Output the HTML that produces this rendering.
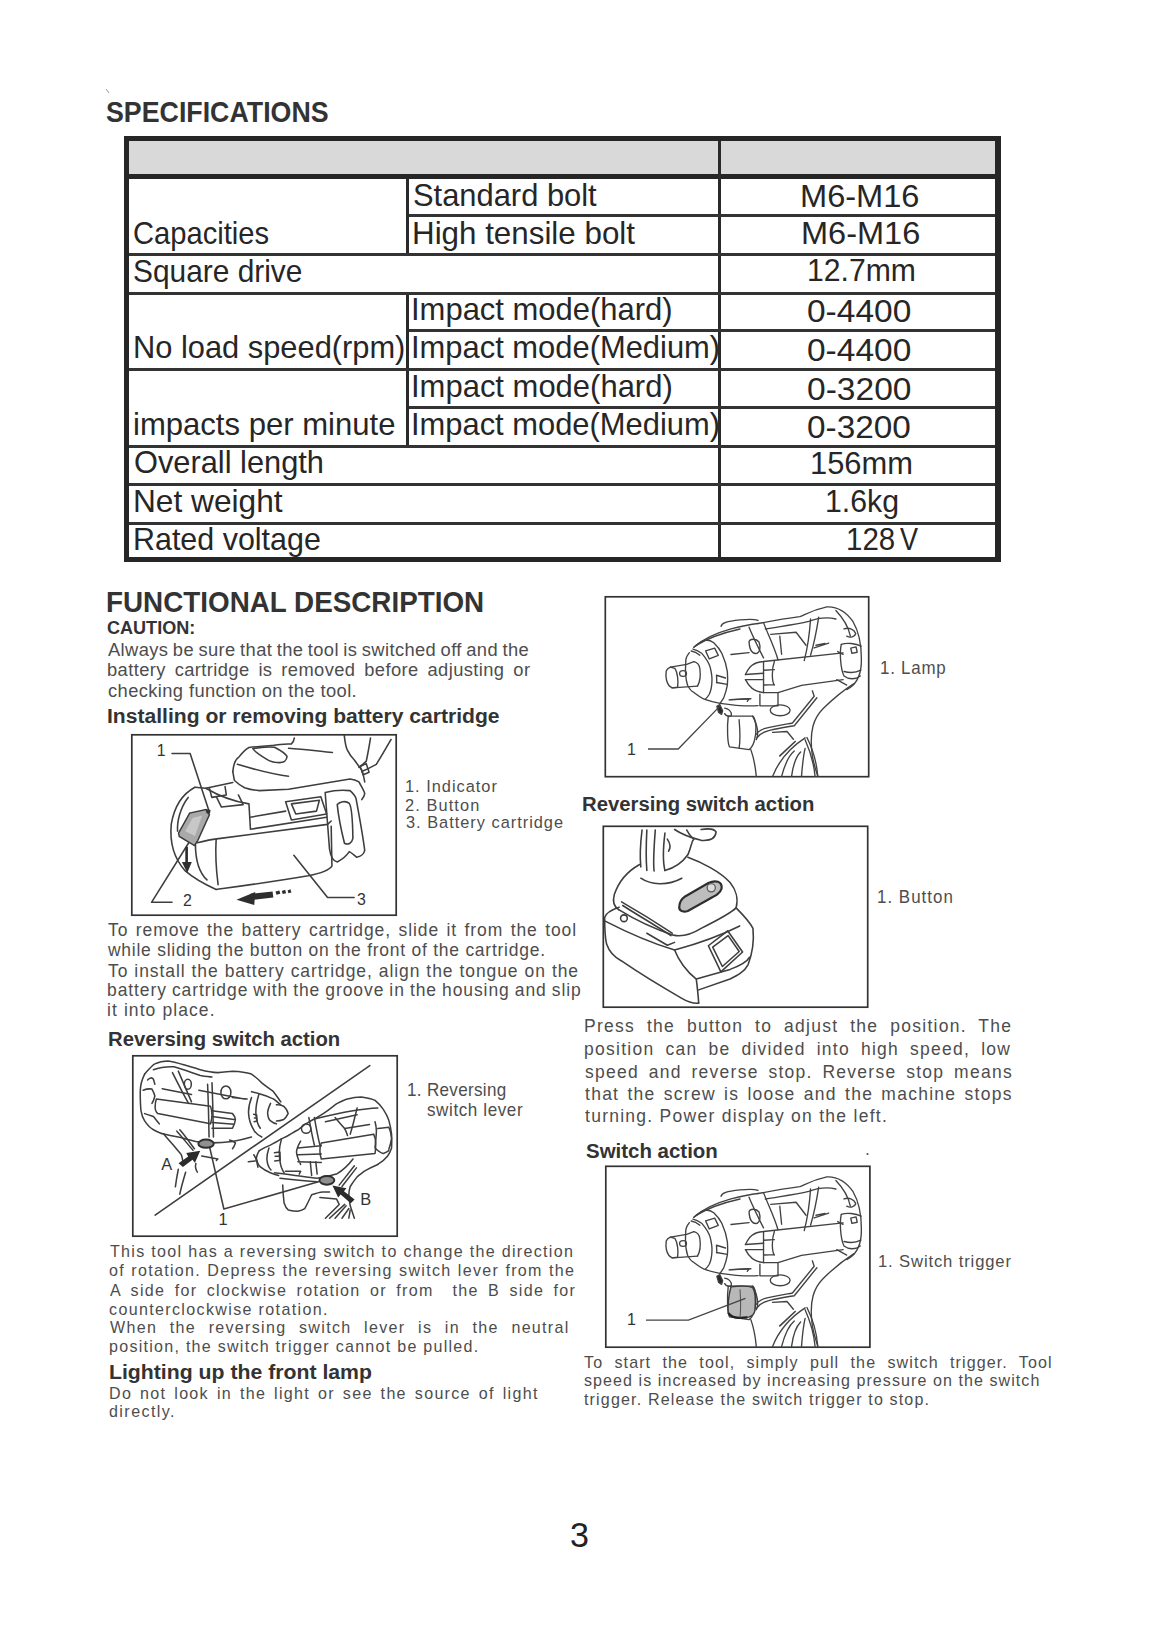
<!DOCTYPE html>
<html><head><meta charset="utf-8"><style>
html,body{margin:0;padding:0;background:#fff;}
body{width:1161px;height:1648px;position:relative;overflow:hidden;font-family:"Liberation Sans",sans-serif;}
.t{position:absolute;white-space:pre;line-height:1;transform-origin:0 0;}
.b{position:absolute;background:#262626;}
svg{position:absolute;}
</style></head><body>
<div class="t" style="left:105.90px;top:98.39px;font-size:29.07px;font-weight:700;color:#333333;transform:scaleX(0.9211)">SPECIFICATIONS</div>
<div class="t" style="left:379.15px;top:141.63px;font-size:31.98px;font-weight:700;color:#1e1e1e;transform:scaleX(0.9853)">Model</div>
<div class="t" style="left:412.61px;top:179.54px;font-size:31.25px;font-weight:400;color:#262626;transform:scaleX(0.9880)">Standard bolt</div>
<div class="t" style="left:800.39px;top:180.94px;font-size:31.25px;font-weight:400;color:#262626;transform:scaleX(1.0426)">M6-M16</div>
<div class="t" style="left:132.74px;top:217.74px;font-size:31.25px;font-weight:400;color:#262626;transform:scaleX(0.9324)">Capacities</div>
<div class="t" style="left:411.69px;top:217.54px;font-size:31.25px;font-weight:400;color:#262626;transform:scaleX(1.0028)">High tensile bolt</div>
<div class="t" style="left:801.40px;top:217.54px;font-size:31.25px;font-weight:400;color:#262626;transform:scaleX(1.0408)">M6-M16</div>
<div class="t" style="left:132.86px;top:255.74px;font-size:31.25px;font-weight:400;color:#262626;transform:scaleX(0.9560)">Square drive</div>
<div class="t" style="left:806.74px;top:255.34px;font-size:31.25px;font-weight:400;color:#262626;transform:scaleX(0.9651)">12.7mm</div>
<div class="t" style="left:410.81px;top:294.04px;font-size:31.25px;font-weight:400;color:#262626;transform:scaleX(0.9911)">Impact mode(hard)</div>
<div class="t" style="left:806.86px;top:295.54px;font-size:31.25px;font-weight:400;color:#262626;transform:scaleX(1.0716)">0-4400</div>
<div class="t" style="left:132.53px;top:332.04px;font-size:31.25px;font-weight:400;color:#262626;transform:scaleX(0.9863)">No load speed(rpm)</div>
<div class="t" style="left:410.82px;top:332.04px;font-size:31.25px;font-weight:400;color:#262626;transform:scaleX(0.9889)">Impact mode(Medium)</div>
<div class="t" style="left:806.86px;top:335.04px;font-size:31.25px;font-weight:400;color:#262626;transform:scaleX(1.0716)">0-4400</div>
<div class="t" style="left:410.81px;top:371.04px;font-size:31.25px;font-weight:400;color:#262626;transform:scaleX(0.9914)">Impact mode(hard)</div>
<div class="t" style="left:806.86px;top:373.54px;font-size:31.25px;font-weight:400;color:#262626;transform:scaleX(1.0737)">0-3200</div>
<div class="t" style="left:132.98px;top:409.04px;font-size:31.25px;font-weight:400;color:#262626;transform:scaleX(0.9940)">impacts per minute</div>
<div class="t" style="left:410.82px;top:409.04px;font-size:31.25px;font-weight:400;color:#262626;transform:scaleX(0.9883)">Impact mode(Medium)</div>
<div class="t" style="left:807.27px;top:412.14px;font-size:31.25px;font-weight:400;color:#262626;transform:scaleX(1.0674)">0-3200</div>
<div class="t" style="left:133.61px;top:447.34px;font-size:31.25px;font-weight:400;color:#262626;transform:scaleX(0.9853)">Overall length</div>
<div class="t" style="left:810.18px;top:447.74px;font-size:31.25px;font-weight:400;color:#262626;transform:scaleX(0.9885)">156mm</div>
<div class="t" style="left:132.97px;top:485.74px;font-size:31.25px;font-weight:400;color:#262626;transform:scaleX(1.0135)">Net weight</div>
<div class="t" style="left:824.93px;top:486.14px;font-size:31.25px;font-weight:400;color:#262626;transform:scaleX(0.9690)">1.6kg</div>
<div class="t" style="left:133.06px;top:524.04px;font-size:31.25px;font-weight:400;color:#262626;transform:scaleX(0.9740)">Rated voltage</div>
<div class="t" style="left:846.49px;top:524.44px;font-size:31.25px;font-weight:400;color:#262626;transform:scaleX(0.9435)">128</div>
<div class="t" style="left:900.26px;top:524.44px;font-size:31.25px;font-weight:400;color:#262626;transform:scaleX(0.8647)">V</div>
<div class="t" style="left:105.59px;top:587.69px;font-size:29.07px;font-weight:700;color:#333333;transform:scaleX(0.9574)">FUNCTIONAL DESCRIPTION</div>
<div class="t" style="left:106.68px;top:619.79px;font-size:17.73px;font-weight:700;color:#333333;transform:scaleX(1.0186)">CAUTION:</div>
<div class="t" style="left:108.40px;top:640.70px;font-size:18.90px;letter-spacing:0.403px;word-spacing:-1.071px;font-weight:400;color:#4d4d4d;transform:scaleX(0.9700)">Always be sure that the tool is switched off and the</div>
<div class="t" style="left:107.21px;top:660.90px;font-size:18.90px;letter-spacing:0.403px;word-spacing:3.545px;font-weight:400;color:#4d4d4d;transform:scaleX(0.9700)">battery cartridge is removed before adjusting or</div>
<div class="t" style="left:107.67px;top:681.60px;font-size:18.90px;letter-spacing:0.403px;font-weight:400;color:#4d4d4d;transform:scaleX(0.9700)">checking function on the tool.</div>
<div class="t" style="left:107.03px;top:706.54px;font-size:19.91px;font-weight:700;color:#333333;transform:scaleX(1.0594)">Installing or removing battery cartridge</div>
<div class="t" style="left:404.97px;top:779.02px;font-size:16.86px;letter-spacing:1.031px;font-weight:400;color:#4d4d4d;transform:scaleX(0.9700)">1. Indicator</div>
<div class="t" style="left:405.38px;top:797.62px;font-size:16.86px;letter-spacing:1.129px;font-weight:400;color:#4d4d4d;transform:scaleX(0.9700)">2. Button</div>
<div class="t" style="left:405.55px;top:815.12px;font-size:16.86px;letter-spacing:1.024px;font-weight:400;color:#4d4d4d;transform:scaleX(0.9700)">3. Battery cartridge</div>
<div class="t" style="left:107.55px;top:921.44px;font-size:18.02px;letter-spacing:0.953px;word-spacing:1.734px;font-weight:400;color:#4d4d4d;transform:scaleX(0.9700)">To remove the battery cartridge, slide it from the tool</div>
<div class="t" style="left:107.90px;top:941.04px;font-size:18.02px;letter-spacing:0.776px;font-weight:400;color:#4d4d4d;transform:scaleX(0.9700)">while sliding the button on the front of the cartridge.</div>
<div class="t" style="left:107.55px;top:961.74px;font-size:18.02px;letter-spacing:0.953px;word-spacing:0.283px;font-weight:400;color:#4d4d4d;transform:scaleX(0.9700)">To install the battery cartridge, align the tongue on the</div>
<div class="t" style="left:106.76px;top:980.74px;font-size:18.02px;letter-spacing:0.953px;word-spacing:-0.734px;font-weight:400;color:#4d4d4d;transform:scaleX(0.9700)">battery cartridge with the groove in the housing and slip</div>
<div class="t" style="left:106.76px;top:1001.44px;font-size:18.02px;letter-spacing:1.129px;font-weight:400;color:#4d4d4d;transform:scaleX(0.9700)">it into place.</div>
<div class="t" style="left:107.98px;top:1030.44px;font-size:19.91px;font-weight:700;color:#333333;transform:scaleX(1.0190)">Reversing switch action</div>
<div class="t" style="left:407.12px;top:1081.81px;font-size:17.59px;letter-spacing:0.328px;font-weight:400;color:#4d4d4d;transform:scaleX(0.9700)">1. Reversing</div>
<div class="t" style="left:427.19px;top:1101.61px;font-size:17.59px;letter-spacing:0.611px;font-weight:400;color:#4d4d4d;transform:scaleX(0.9700)">switch lever</div>
<div class="t" style="left:109.58px;top:1244.17px;font-size:16.57px;letter-spacing:1.341px;word-spacing:0.018px;font-weight:400;color:#4d4d4d;transform:scaleX(0.9700)">This tool has a reversing switch to change the direction</div>
<div class="t" style="left:109.26px;top:1263.37px;font-size:16.57px;letter-spacing:1.341px;word-spacing:0.529px;font-weight:400;color:#4d4d4d;transform:scaleX(0.9700)">of rotation. Depress the reversing switch lever from the</div>
<div class="t" style="left:109.90px;top:1283.37px;font-size:16.57px;letter-spacing:1.341px;word-spacing:3.761px;font-weight:400;color:#4d4d4d;transform:scaleX(0.9700)">A side for clockwise rotation or from  the B side for</div>
<div class="t" style="left:109.26px;top:1301.57px;font-size:16.57px;letter-spacing:1.384px;font-weight:400;color:#4d4d4d;transform:scaleX(0.9700)">counterclockwise rotation.</div>
<div class="t" style="left:109.82px;top:1319.77px;font-size:16.57px;letter-spacing:1.341px;word-spacing:7.060px;font-weight:400;color:#4d4d4d;transform:scaleX(0.9700)">When the reversing switch lever is in the neutral</div>
<div class="t" style="left:108.86px;top:1338.77px;font-size:16.57px;letter-spacing:1.297px;font-weight:400;color:#4d4d4d;transform:scaleX(0.9700)">position, the switch trigger cannot be pulled.</div>
<div class="t" style="left:108.92px;top:1361.59px;font-size:20.20px;font-weight:700;color:#333333;transform:scaleX(1.0516)">Lighting up the front lamp</div>
<div class="t" style="left:108.61px;top:1386.37px;font-size:16.57px;letter-spacing:1.341px;word-spacing:2.249px;font-weight:400;color:#4d4d4d;transform:scaleX(0.9700)">Do not look in the light or see the source of light</div>
<div class="t" style="left:109.26px;top:1403.97px;font-size:16.57px;letter-spacing:1.472px;font-weight:400;color:#4d4d4d;transform:scaleX(0.9700)">directly.</div>
<div class="t" style="left:879.73px;top:659.93px;font-size:17.44px;letter-spacing:0.785px;font-weight:400;color:#4d4d4d;transform:scaleX(0.9700)">1. Lamp</div>
<div class="t" style="left:582.28px;top:794.84px;font-size:19.91px;font-weight:700;color:#333333;transform:scaleX(1.0195)">Reversing switch action</div>
<div class="t" style="left:876.93px;top:888.53px;font-size:17.44px;letter-spacing:1.043px;font-weight:400;color:#4d4d4d;transform:scaleX(0.9700)">1. Button</div>
<div class="t" style="left:583.90px;top:1016.64px;font-size:18.02px;letter-spacing:1.315px;word-spacing:5.931px;font-weight:400;color:#4d4d4d;transform:scaleX(0.9700)">Press the button to adjust the position. The</div>
<div class="t" style="left:584.16px;top:1039.94px;font-size:18.02px;letter-spacing:1.315px;word-spacing:5.004px;font-weight:400;color:#4d4d4d;transform:scaleX(0.9700)">position can be divided into high speed, low</div>
<div class="t" style="left:584.78px;top:1062.54px;font-size:18.02px;letter-spacing:1.315px;word-spacing:3.738px;font-weight:400;color:#4d4d4d;transform:scaleX(0.9700)">speed and reverse stop. Reverse stop means</div>
<div class="t" style="left:585.04px;top:1085.24px;font-size:18.02px;letter-spacing:1.315px;word-spacing:2.153px;font-weight:400;color:#4d4d4d;transform:scaleX(0.9700)">that the screw is loose and the machine stops</div>
<div class="t" style="left:585.04px;top:1107.14px;font-size:18.02px;letter-spacing:1.315px;font-weight:400;color:#4d4d4d;transform:scaleX(0.9700)">turning. Power display on the left.</div>
<div class="t" style="left:585.79px;top:1142.14px;font-size:19.91px;font-weight:700;color:#333333;transform:scaleX(1.0273)">Switch action</div>
<div class="t" style="left:878.25px;top:1252.78px;font-size:17.15px;letter-spacing:0.889px;font-weight:400;color:#4d4d4d;transform:scaleX(0.9700)">1. Switch trigger</div>
<div class="t" style="left:583.98px;top:1355.17px;font-size:16.57px;letter-spacing:1.137px;word-spacing:5.866px;font-weight:400;color:#4d4d4d;transform:scaleX(0.9700)">To start the tool, simply pull the switch trigger. Tool</div>
<div class="t" style="left:583.82px;top:1373.17px;font-size:16.57px;letter-spacing:1.090px;font-weight:400;color:#4d4d4d;transform:scaleX(0.9700)">speed is increased by increasing pressure on the switch</div>
<div class="t" style="left:584.06px;top:1392.37px;font-size:16.57px;letter-spacing:1.185px;font-weight:400;color:#4d4d4d;transform:scaleX(0.9700)">trigger. Release the switch trigger to stop.</div>
<div class="t" style="left:570.24px;top:1518.36px;font-size:34.88px;font-weight:400;color:#222;transform:scaleX(0.9777)">3</div>
<div class="b" style="left:129px;top:141px;width:866px;height:33px;background:#d9d9d9"></div>
<div class="b" style="left:124px;top:136px;width:876px;height:5px;background:#262626"></div>
<div class="b" style="left:124px;top:174px;width:876px;height:5px;background:#262626"></div>
<div class="b" style="left:124px;top:136px;width:5px;height:426px;background:#262626"></div>
<div class="b" style="left:995px;top:136px;width:6px;height:426px;background:#262626"></div>
<div class="b" style="left:124px;top:557px;width:877px;height:5px;background:#262626"></div>
<div class="b" style="left:718px;top:141px;width:3px;height:416px;background:#2a2a2a"></div>
<div class="b" style="left:406px;top:179px;width:3px;height:75px;background:#2a2a2a"></div>
<div class="b" style="left:406px;top:292px;width:3px;height:154px;background:#2a2a2a"></div>
<div class="b" style="left:409px;top:214px;width:586px;height:3px;background:#333"></div>
<div class="b" style="left:129px;top:253px;width:866px;height:3px;background:#333"></div>
<div class="b" style="left:129px;top:292px;width:866px;height:3px;background:#333"></div>
<div class="b" style="left:409px;top:329px;width:586px;height:3px;background:#333"></div>
<div class="b" style="left:129px;top:368px;width:866px;height:3px;background:#333"></div>
<div class="b" style="left:409px;top:406px;width:586px;height:3px;background:#333"></div>
<div class="b" style="left:129px;top:445px;width:866px;height:3px;background:#333"></div>
<div class="b" style="left:129px;top:483px;width:866px;height:3px;background:#333"></div>
<div class="b" style="left:129px;top:522px;width:866px;height:3px;background:#333"></div>
<svg style="left:0;top:0" width="1161" height="1648"><rect x="131.8" y="734.8" width="264.4" height="180.4" fill="none" stroke="#333" stroke-width="1.7"/></svg>
<svg style="left:0;top:0" width="1161" height="1648"><rect x="132.8" y="1055.8" width="264.4" height="180.4" fill="none" stroke="#333" stroke-width="1.7"/></svg>
<svg style="left:0;top:0" width="1161" height="1648"><rect x="605.3" y="596.8" width="263.4" height="179.9" fill="none" stroke="#333" stroke-width="1.7"/></svg>
<svg style="left:0;top:0" width="1161" height="1648"><rect x="603.3" y="826.3" width="264.4" height="180.9" fill="none" stroke="#333" stroke-width="1.7"/></svg>
<svg style="left:0;top:0" width="1161" height="1648"><rect x="605.8" y="1166.3" width="264.1" height="180.9" fill="none" stroke="#333" stroke-width="1.7"/></svg>
<svg style="left:655px;top:600px" width="210" height="150" viewBox="0 0 1161 829" overflow="visible"><g fill="none" stroke="#424242" stroke-width="7.5" stroke-linecap="round" stroke-linejoin="round">
<!-- square drive -->
<path d="M62 392 C58 420 60 470 95 486 L125 482 C130 450 125 400 110 378 L85 371 C75 375 66 382 62 392 Z"/>
<path d="M85 371 L175 356 L215 341 M95 486 L235 476"/>
<ellipse cx="155" cy="406" rx="19" ry="16"/>
<path d="M215 341 C235 345 245 360 248 380 C252 410 250 450 235 476"/>
<!-- collar -->
<path d="M190 291 C175 310 168 330 170 346 C166 400 170 440 180 471 C190 490 200 505 215 511 C240 530 260 545 280 551 C310 562 340 568 360 571"/>
<path d="M210 271 C230 275 245 285 260 296 C280 320 298 345 305 371 C312 400 316 420 315 446 C314 480 308 505 300 521 C292 535 285 542 280 546"/>
<path d="M200 282 C218 285 232 292 248 305"/>
<!-- nose cone -->
<path d="M215 261 C240 240 260 226 280 221 C300 222 315 228 325 236 C345 255 360 275 370 296 C385 330 395 360 400 396 C402 420 402 450 400 471 C395 500 388 520 380 541 L360 571"/>
<path d="M280 281 L330 266 L350 306 L300 326 Z"/>
<path d="M340 416 L390 431 M340 456 L400 466 M340 416 L342 458"/>
<!-- front case -->
<path d="M215 261 C260 220 330 185 420 160 C480 145 530 135 570 130"/>
<path d="M225 252 C300 205 380 180 470 160"/>
<path d="M365 145 C370 125 395 118 470 110 C510 106 545 104 570 112"/>
<path d="M360 571 C420 580 500 588 570 584"/>
<path d="M410 552 L520 546 L510 560"/>
<path d="M420 301 L520 291 M415 551 L530 546"/>
<!-- middle clamp band -->
<path d="M520 150 C540 200 580 280 600 320"/>
<path d="M600 125 C620 180 660 260 680 330"/>
<path d="M520 230 C525 212 560 212 575 232 C585 260 580 288 565 295 C540 300 522 280 520 230"/>
<path d="M640 190 L780 178 L835 250"/>
<path d="M690 200 L700 300"/>
<!-- side bar with pointed nose -->
<path d="M500 412 C520 370 540 345 600 340 L1040 292"/>
<path d="M500 440 C520 480 545 505 600 512 L680 512 L810 472 L1040 440"/>
<path d="M600 340 L600 512 M660 340 C645 380 645 450 660 470 M600 388 L660 385 M605 470 L660 468"/>
<path d="M500 412 L600 405 M500 440 L600 440"/>
<path d="M580 520 L580 585 L680 585 L680 515"/>
<!-- fins -->
<path d="M860 105 C855 180 845 260 825 335"/>
<path d="M905 95 C895 160 880 240 860 305"/>
<path d="M880 265 L960 238 M890 250 L940 240"/>
<!-- motor housing outline -->
<path d="M570 130 C650 115 740 100 800 92 C830 80 870 55 950 38 C1010 35 1060 70 1095 120 C1130 180 1145 260 1140 360 C1135 420 1110 470 1060 495"/>
<path d="M610 160 C700 145 780 135 850 118 C900 100 960 95 1000 105"/>
<path d="M1000 58 C1040 100 1070 150 1080 200"/>
<!-- rear cap -->
<path d="M1030 245 C1020 290 1025 380 1045 420 C1070 440 1110 440 1135 420"/>
<path d="M1030 245 C1060 235 1110 240 1140 255"/>
<path d="M1045 160 C1070 150 1100 160 1110 185 C1105 205 1080 210 1060 200"/>
<rect x="1085" y="262" width="30" height="30" transform="rotate(-12 1100 277)"/>
<path d="M1045 395 C1080 405 1115 400 1138 388"/>
<path d="M1010 285 L1040 300 M1005 440 L1060 470"/>
<!-- lamp -->
<path d="M342 588 L358 578 L374 612 L368 632 L352 622 Z" fill="#2a2a2a"/>
<path d="M385 598 C405 600 425 615 422 638 C410 648 392 640 385 628"/>
<ellipse cx="692" cy="610" rx="55" ry="30"/>
<!-- trigger -->
<path d="M405 642 C398 700 400 790 412 812 L520 827 C545 810 560 760 558 700 C556 670 550 650 540 642 Z"/>
<path d="M465 662 C470 720 470 790 465 817"/>
<!-- handle front edge (double) -->
<path d="M540 642 C570 700 575 740 560 772 M560 742 C580 710 620 705 760 680 L880 532 L870 502"/>
<path d="M565 760 C590 725 630 718 770 695 L895 540"/>
<path d="M530 827 C545 870 555 920 560 975"/>
<!-- handle rear contour -->
<path d="M1100 462 C1040 500 990 540 930 600 C880 650 850 720 870 862 C880 920 895 955 900 975"/>
<!-- grip ribs -->
<path d="M650 975 C680 900 740 820 830 762"/>
<path d="M700 975 C720 900 740 860 770 835"/>
<path d="M755 975 C765 900 785 860 805 840"/>
<path d="M810 975 C815 910 820 860 830 820"/>
<path d="M830 772 C860 840 880 920 885 975"/>
<path d="M840 760 C875 830 895 910 900 975"/>
<path d="M690 862 L775 782" stroke-width="9"/>
<path d="M650 732 L730 727 L765 770"/>
</g>
</svg>
<svg style="left:655px;top:1170px" width="210" height="150" viewBox="0 0 1161 829" overflow="visible"><g fill="none" stroke="#424242" stroke-width="7.5" stroke-linecap="round" stroke-linejoin="round">
<!-- square drive -->
<path d="M62 392 C58 420 60 470 95 486 L125 482 C130 450 125 400 110 378 L85 371 C75 375 66 382 62 392 Z"/>
<path d="M85 371 L175 356 L215 341 M95 486 L235 476"/>
<ellipse cx="155" cy="406" rx="19" ry="16"/>
<path d="M215 341 C235 345 245 360 248 380 C252 410 250 450 235 476"/>
<!-- collar -->
<path d="M190 291 C175 310 168 330 170 346 C166 400 170 440 180 471 C190 490 200 505 215 511 C240 530 260 545 280 551 C310 562 340 568 360 571"/>
<path d="M210 271 C230 275 245 285 260 296 C280 320 298 345 305 371 C312 400 316 420 315 446 C314 480 308 505 300 521 C292 535 285 542 280 546"/>
<path d="M200 282 C218 285 232 292 248 305"/>
<!-- nose cone -->
<path d="M215 261 C240 240 260 226 280 221 C300 222 315 228 325 236 C345 255 360 275 370 296 C385 330 395 360 400 396 C402 420 402 450 400 471 C395 500 388 520 380 541 L360 571"/>
<path d="M280 281 L330 266 L350 306 L300 326 Z"/>
<path d="M340 416 L390 431 M340 456 L400 466 M340 416 L342 458"/>
<!-- front case -->
<path d="M215 261 C260 220 330 185 420 160 C480 145 530 135 570 130"/>
<path d="M225 252 C300 205 380 180 470 160"/>
<path d="M365 145 C370 125 395 118 470 110 C510 106 545 104 570 112"/>
<path d="M360 571 C420 580 500 588 570 584"/>
<path d="M410 552 L520 546 L510 560"/>
<path d="M420 301 L520 291 M415 551 L530 546"/>
<!-- middle clamp band -->
<path d="M520 150 C540 200 580 280 600 320"/>
<path d="M600 125 C620 180 660 260 680 330"/>
<path d="M520 230 C525 212 560 212 575 232 C585 260 580 288 565 295 C540 300 522 280 520 230"/>
<path d="M640 190 L780 178 L835 250"/>
<path d="M690 200 L700 300"/>
<!-- side bar with pointed nose -->
<path d="M500 412 C520 370 540 345 600 340 L1040 292"/>
<path d="M500 440 C520 480 545 505 600 512 L680 512 L810 472 L1040 440"/>
<path d="M600 340 L600 512 M660 340 C645 380 645 450 660 470 M600 388 L660 385 M605 470 L660 468"/>
<path d="M500 412 L600 405 M500 440 L600 440"/>
<path d="M580 520 L580 585 L680 585 L680 515"/>
<!-- fins -->
<path d="M860 105 C855 180 845 260 825 335"/>
<path d="M905 95 C895 160 880 240 860 305"/>
<path d="M880 265 L960 238 M890 250 L940 240"/>
<!-- motor housing outline -->
<path d="M570 130 C650 115 740 100 800 92 C830 80 870 55 950 38 C1010 35 1060 70 1095 120 C1130 180 1145 260 1140 360 C1135 420 1110 470 1060 495"/>
<path d="M610 160 C700 145 780 135 850 118 C900 100 960 95 1000 105"/>
<path d="M1000 58 C1040 100 1070 150 1080 200"/>
<!-- rear cap -->
<path d="M1030 245 C1020 290 1025 380 1045 420 C1070 440 1110 440 1135 420"/>
<path d="M1030 245 C1060 235 1110 240 1140 255"/>
<path d="M1045 160 C1070 150 1100 160 1110 185 C1105 205 1080 210 1060 200"/>
<rect x="1085" y="262" width="30" height="30" transform="rotate(-12 1100 277)"/>
<path d="M1045 395 C1080 405 1115 400 1138 388"/>
<path d="M1010 285 L1040 300 M1005 440 L1060 470"/>
<!-- lamp -->
<path d="M342 588 L358 578 L374 612 L368 632 L352 622 Z" fill="#2a2a2a"/>
<path d="M385 598 C405 600 425 615 422 638 C410 648 392 640 385 628"/>
<ellipse cx="692" cy="610" rx="55" ry="30"/>
<!-- trigger -->
<path d="M405 642 C398 700 400 790 412 812 L520 827 C545 810 560 760 558 700 C556 670 550 650 540 642 Z"/>
<path d="M465 662 C470 720 470 790 465 817"/>
<!-- handle front edge (double) -->
<path d="M540 642 C570 700 575 740 560 772 M560 742 C580 710 620 705 760 680 L880 532 L870 502"/>
<path d="M565 760 C590 725 630 718 770 695 L895 540"/>
<path d="M530 827 C545 870 555 920 560 975"/>
<!-- handle rear contour -->
<path d="M1100 462 C1040 500 990 540 930 600 C880 650 850 720 870 862 C880 920 895 955 900 975"/>
<!-- grip ribs -->
<path d="M650 975 C680 900 740 820 830 762"/>
<path d="M700 975 C720 900 740 860 770 835"/>
<path d="M755 975 C765 900 785 860 805 840"/>
<path d="M810 975 C815 910 820 860 830 820"/>
<path d="M830 772 C860 840 880 920 885 975"/>
<path d="M840 760 C875 830 895 910 900 975"/>
<path d="M690 862 L775 782" stroke-width="9"/>
<path d="M650 732 L730 727 L765 770"/>
</g>
</svg>
<svg style="left:655px;top:1170px" width="210" height="150" viewBox="0 0 1161 829" overflow="visible"><path d="M420 645 C470 640 520 642 540 650 C555 670 558 720 552 780 C545 805 525 815 500 815 L450 815 C425 812 408 800 405 790 C402 750 405 700 420 645 Z" fill="#b8b8b8" stroke="#3a3a3a" stroke-width="8"/><path d="M405 790 C420 812 440 818 470 818 L510 815" fill="none" stroke="#222" stroke-width="12"/><path d="M470 660 C474 720 474 780 470 815" fill="none" stroke="#555" stroke-width="6"/><path d="M500 710 L185 830 L-50 830" fill="none" stroke="#444" stroke-width="7"/></svg>
<svg style="left:125.0px;top:725.0px" width="280.0" height="200.0" viewBox="0 0 1161.0 829.0" overflow="visible"><!-- 125 725 280 200 1161 829 -->
<g fill="none" stroke="#3e3e3e" stroke-width="6.5" stroke-linecap="round" stroke-linejoin="round">
<!-- upper housing -->
<path d="M447 193 C450 160 460 140 472 133 C490 110 500 100 514 93 C560 88 590 86 617 84 C650 80 680 79 690 78 C698 70 701 62 702 54"/>
<path d="M530 98 C560 92 600 90 620 92 C645 105 665 118 672 130 C670 148 662 155 640 156 C620 156 600 150 585 140 C560 125 540 112 530 98 Z"/>
<path d="M447 193 C450 210 452 222 454 230 C470 245 485 255 496 260 C520 268 540 271 557 272 C600 270 640 268 678 266 L933 224 C950 226 960 230 970 236 C980 255 990 270 994 284 C992 295 988 302 982 309"/>
<path d="M909 42 C912 70 916 90 921 102 C930 120 940 135 951 145 C965 165 975 178 982 187 C988 205 992 220 994 236"/>
<path d="M678 96 C740 100 800 108 860 114 M466 163 C540 185 610 205 678 212"/>
<path d="M1103 60 C1080 100 1060 135 1042 163 C1020 175 1000 185 982 193 M1018 54 C1012 90 1006 125 1000 151 C990 160 980 168 970 175"/>
<path d="M975 172 L1000 160 L1012 196 L988 206 Z"/>
<!-- battery rail top -->
<path d="M290 258 L335 262 L447 238"/>
<path d="M335 262 C400 300 470 320 514 327 L520 430"/>
<path d="M520 432 L836 382 M520 382 L666 357"/>
<path d="M350 262 L360 300 L420 290 L415 255 M380 300 L400 340 L490 330 L470 290"/>
<path d="M666 318 L812 297 L836 369 L690 394 Z M690 327 L806 312 L794 357 L708 369 Z"/>
<!-- clip -->
<path d="M830 280 C860 272 900 268 933 272 C948 285 955 295 958 305 C972 380 985 450 994 520 C990 538 980 545 960 548 C950 540 940 530 930 525 C920 540 905 555 880 568 C860 565 852 540 848 515 C842 430 836 350 830 280 Z"/>
<path d="M880 330 C890 318 915 312 930 325 C940 340 944 400 945 470 C940 492 925 498 910 490 C900 450 885 380 880 330 Z"/>
<!-- battery body -->
<path d="M290 258 C240 285 205 335 192 410 C185 480 200 550 250 605 C290 640 340 665 378 682"/>
<path d="M378 682 C450 672 600 652 760 625 C810 615 845 605 858 585 L855 420"/>
<path d="M300 488 C340 478 360 474 380 472 L840 412 L855 398"/>
<path d="M378 472 C375 520 378 600 386 662"/>
<path d="M292 492 C292 560 305 610 340 642"/>
<path d="M262 300 C230 340 215 400 218 440"/>
<!-- leaders -->
<path d="M195 118 L270 118 L348 355"/>
<path d="M110 735 L195 735 M110 735 L285 455"/>
<path d="M700 540 L840 715 L950 715"/>
</g>
<!-- button -->
<path d="M222 448 L268 365 L335 350 L350 372 L302 478 L288 500 L225 462 Z" fill="#a9a9a9" stroke="#3a3a3a" stroke-width="6"/>
<path d="M250 440 L280 385 L320 375 L290 460 Z" fill="#c8c8c8" stroke="none"/>
<path d="M335 348 L355 352 L352 368 L338 366 Z" fill="#333"/>
<!-- arrows -->
<g fill="#2e2e2e" stroke="none">
<rect x="250" y="505" width="11" height="75"/>
<path d="M236 568 L277 568 L258 614 Z"/>
<path d="M462 724 L540 692 L536 746 Z"/>
<path d="M520 700 L612 690 L615 715 L522 726 Z"/>
<path d="M624 690 L640 686 L644 700 L628 704 Z M650 688 L664 683 L668 697 L654 701 Z M674 686 L686 681 L690 694 L678 698 Z"/>
</g>
<g font-family="Liberation Sans" font-size="66" fill="#333">
<text x="132" y="130">1</text><text x="240" y="750">2</text><text x="962" y="745">3</text>
</g>
</svg>
<svg style="left:125.0px;top:1045.0px" width="280.0" height="200.0" viewBox="0 0 1161.0 829.0" overflow="visible"><!-- 125 1045 280 200 1161 829 -->
<g fill="none" stroke="#3e3e3e" stroke-width="6.5" stroke-linecap="round" stroke-linejoin="round">
<path d="M125 705 L1015 85"/>
<path d="M349 415 L410 680 L802 567"/>
</g>
<defs><clipPath id="clL"><path d="M-100 -100 L1261 -100 L1261 -86 L-100 862 Z"/></clipPath><clipPath id="clR"><path d="M-100 862 L1261 -86 L1261 1000 L-100 1000 Z"/></clipPath></defs>
<g clip-path="url(#clL)">
<!-- LEFT TOOL -->
<g transform="translate(20.7 41.5) scale(0.6071)" fill="none" stroke="#3e3e3e" stroke-width="10.5" stroke-linecap="round" stroke-linejoin="round">
<path d="M100 130 C80 170 70 210 70 250 C70 300 72 350 75 380 C80 410 90 435 100 450 C120 480 140 500 160 510 C190 525 210 535 230 540"/>
<path d="M100 130 C130 95 150 70 170 60 C200 45 230 40 260 40 C300 45 340 58 380 70 C420 82 450 92 480 100 C520 110 560 118 600 120 C640 118 670 112 700 110 C750 112 800 120 830 130 C860 150 880 170 900 190 C930 215 960 235 980 250 C1000 275 1015 300 1030 320"/>
<path d="M160 100 C200 85 250 78 300 80 C360 95 420 120 480 140 C510 145 540 150 560 150"/>
<path d="M120 170 C135 155 150 150 160 165 C165 180 168 195 170 200 M90 240 C110 232 135 230 150 232 C160 250 168 265 170 280 C165 300 158 318 150 330 M100 400 C125 410 145 415 160 420 C175 440 190 455 200 470"/>
<path d="M180 300 L550 350 C558 370 560 390 560 410 C560 430 556 450 550 470 L190 400 C175 385 170 365 172 350 C172 330 175 315 180 300 Z"/>
<path d="M560 380 L700 400 C712 412 718 425 720 440 C718 460 710 480 700 500 L560 500 M560 420 L710 440 M560 460 L712 472"/>
<path d="M530 200 C535 320 538 440 540 560 M560 190 C565 310 568 440 570 560"/>
<path d="M290 120 C325 190 360 260 400 330 M330 110 C360 180 390 250 420 320"/>
<ellipse cx="395" cy="200" rx="24" ry="34"/>
<ellipse cx="655" cy="255" rx="34" ry="44"/>
<path d="M220 230 L420 270 M470 240 L780 300 M700 290 L800 300"/>
<path d="M230 540 C270 550 300 555 330 560 C370 570 410 582 450 590 C490 596 530 600 560 600 C610 598 660 594 700 590 C750 582 790 572 830 560"/>
<path d="M830 290 C815 330 808 370 810 400 C812 440 825 480 850 520 C865 540 880 552 900 560 M880 270 C865 320 858 360 860 400 C862 440 872 475 890 500 M960 330 C948 355 940 380 940 400 C942 420 948 440 960 450 C975 462 990 468 1000 470"/>
<path d="M1000 340 C1020 338 1040 345 1050 350 C1070 370 1078 385 1080 400 C1070 420 1060 432 1050 440 C1030 448 1015 450 1000 450"/>
<path d="M830 250 C860 258 880 264 900 270 C940 282 960 292 980 300 C1000 315 1015 328 1030 340"/>
<path d="M845 405 L865 410 L868 450 L848 455 M850 430 L866 430"/>
<path d="M230 540 C255 570 280 598 300 620 C320 645 338 665 350 680 C355 695 358 708 360 720"/>
<path d="M320 520 C360 565 395 610 430 650 M340 510 C380 555 410 600 440 640"/>
<path d="M330 780 C322 820 315 860 310 900 M380 800 C365 850 350 900 340 950"/>
<path d="M490 690 L600 710 L590 720 M450 740 C445 760 450 785 460 800 M680 580 C700 585 715 595 720 600 C715 615 708 630 700 640"/>
</g>
</g>
<g clip-path="url(#clR)">
<!-- RIGHT TOOL -->
<g transform="translate(476.8 186.6) scale(0.5714)" fill="none" stroke="#3e3e3e" stroke-width="11" stroke-linecap="round" stroke-linejoin="round">
<path d="M140 440 C125 465 118 485 120 500 C125 530 135 548 150 560 C175 580 200 592 220 600 C240 608 262 615 280 620"/>
<path d="M210 420 C200 450 195 475 195 500 C198 540 208 562 225 580 M300 360 C290 395 285 420 285 450 C286 500 292 535 300 560 C308 580 314 592 320 600"/>
<path d="M60 520 L110 515 M100 470 C115 490 125 520 130 560"/>
<path d="M140 440 C170 420 195 410 220 400 C250 385 275 370 300 355"/>
<path d="M250 455 L290 450 L292 510 L252 515 M255 480 L290 478"/>
<path d="M300 355 C320 345 335 338 350 330 C375 315 400 300 420 290 C440 275 455 262 470 250 C495 235 520 220 540 210 C570 190 600 175 620 160 C650 140 675 118 700 100 C730 85 755 72 780 65 C815 55 850 50 880 50 C920 55 955 62 980 75 C1005 95 1025 118 1040 140 C1060 170 1072 195 1080 220 C1090 255 1097 290 1100 320 C1102 355 1102 390 1100 420 C1092 445 1082 465 1070 480 C1050 505 1025 525 1000 540"/>
<path d="M540 210 C640 185 730 165 820 150 C880 140 950 132 1000 130"/>
<path d="M590 385 L970 320 C980 340 985 365 985 390 C985 415 983 440 980 460 L590 500 C583 480 580 460 580 440 C580 420 584 400 590 385 Z"/>
<path d="M420 420 L590 405 M420 470 L590 465 M420 520 L590 525 M440 370 C425 395 412 420 410 450 C412 480 425 510 440 540"/>
<path d="M500 200 C512 270 525 340 540 400 M540 200 C552 270 565 340 580 400 M510 520 L520 620 M550 520 L560 610"/>
<circle cx="480" cy="280" r="34"/>
<path d="M690 200 C715 230 740 260 760 280 C770 300 776 315 780 330 M850 130 C840 170 830 210 820 250 C812 280 806 300 800 320"/>
<path d="M620 230 L850 180 M760 280 L940 250"/>
<path d="M980 230 C987 255 990 280 990 300 C988 340 984 380 980 420 C1000 440 1020 455 1040 460 C1055 455 1070 448 1080 440 M1000 280 C1030 275 1060 272 1080 270 C1092 295 1098 325 1100 350 C1095 380 1088 408 1080 430"/>
<path d="M250 600 C300 606 350 613 400 620 C460 628 510 636 560 640 C610 632 660 622 700 610 C750 580 790 540 820 500 M290 640 C380 650 470 660 560 665"/>
<path d="M330 590 L440 590 L430 610"/>
<path d="M310 690 C312 735 315 780 320 820 C328 845 338 860 350 870 C375 877 400 880 420 880 C440 875 458 868 470 860 C490 825 505 790 520 760 C550 750 580 742 600 740 L650 740"/>
<path d="M1000 540 C965 555 930 572 900 590 C880 605 865 618 850 630 C830 655 812 680 800 700 C793 720 790 740 790 760 C792 790 795 815 800 840 C810 870 820 900 830 930"/>
<path d="M720 690 L830 550 M740 700 L845 565"/>
<path d="M580 780 L700 790 L720 830 L620 930"/>
<path d="M650 930 L760 830 M690 930 L770 840 M740 930 L790 860 M790 930 L800 870"/>
</g>
</g>
<ellipse cx="336" cy="409" rx="32" ry="17" fill="#8f8f8f" stroke="#2e2e2e" stroke-width="8"/>
<ellipse cx="837" cy="561" rx="31" ry="18" fill="#8f8f8f" stroke="#2e2e2e" stroke-width="8"/>
<g fill="#2b2b2b">
<path d="M222 490 L262 462 L254 448 L312 438 L290 488 L280 476 L240 506 Z"/>
<path d="M952 640 L908 606 L918 594 L860 582 L884 632 L894 620 L936 656 Z"/>
</g>
<g font-family="Liberation Sans" font-size="68" fill="#333">
<text x="150" y="520">A</text><text x="975" y="665">B</text><text x="388" y="748">1</text>
</g>
</svg>
<svg style="left:595.0px;top:815.0px" width="280.0" height="200.0" viewBox="0 0 1161.0 829.0" overflow="visible"><!-- 595 815 280 200 1161 829 -->
<g fill="none" stroke="#3e3e3e" stroke-width="6.5" stroke-linecap="round" stroke-linejoin="round">
<!-- handle -->
<path d="M195 62 C188 120 185 170 190 215 M215 62 C212 120 210 170 215 230"/>
<path d="M250 62 C245 130 240 190 245 232 M290 75 C282 140 280 190 290 230"/>
<path d="M290 230 C330 220 360 200 385 165 C400 130 400 110 410 98"/>
<path d="M330 60 C360 80 400 95 440 105 C480 108 500 95 502 70 C495 58 470 55 440 60"/>
<path d="M300 100 C310 115 315 135 305 150 M380 62 C390 80 400 95 410 98"/>
<!-- foot top -->
<path d="M185 205 C140 230 100 270 80 330 C72 360 78 380 98 392"/>
<path d="M385 175 C440 195 520 235 560 280 C585 310 595 350 585 385"/>
<path d="M190 262 C230 290 300 295 360 262"/>
<path d="M98 392 C160 430 240 470 325 498 C360 505 400 495 440 470 C500 440 560 410 585 385"/>
<path d="M110 360 C180 400 260 450 320 490 M115 375 C185 420 255 460 315 500"/>
<path d="M215 490 L300 540 L330 528"/>
<circle cx="120" cy="428" r="14"/>
<!-- battery -->
<path d="M100 382 C70 392 45 405 40 425 C40 470 42 510 48 535 C60 570 80 590 110 605 C190 660 290 720 360 760 C385 775 405 782 430 780"/>
<path d="M585 385 C610 410 640 440 655 470 C660 520 650 580 635 620 C620 650 590 665 560 680 L430 725"/>
<path d="M42 440 C120 480 230 530 330 560 C345 600 380 650 420 680"/>
<path d="M330 560 C420 535 520 500 600 460"/>
<path d="M420 680 C425 720 428 750 430 780 M420 680 L560 640 C600 625 630 610 640 590"/>
<path d="M470 542 L550 480 L612 568 L522 650 Z M488 548 L552 500 L598 566 L528 628 Z"/>
</g>
<path d="M370 340 L470 282 C500 268 528 275 525 305 C520 325 500 335 470 350 L385 398 C360 405 345 395 350 375 C352 360 358 348 370 340 Z" fill="#bdbdbd" stroke="#2e2e2e" stroke-width="9"/>
<circle cx="482" cy="302" r="17" fill="#ddd" stroke="#555" stroke-width="5"/>
</svg>
<svg style="left:0;top:0" width="1161" height="1648" viewBox="0 0 1161 1648">
<g fill="none" stroke="#444" stroke-width="1.3">
<path d="M720.4 705.6 L678.2 749 L648 749"/>

</g>
<circle cx="867.5" cy="1154" r="1.1" fill="#555"/>
<path d="M106 89 L109 93" stroke="#999" stroke-width="1"/>
<text x="627" y="755" font-family="Liberation Sans" font-size="16" fill="#333">1</text>
<text x="627" y="1325" font-family="Liberation Sans" font-size="16" fill="#333">1</text>
</svg>
</body></html>
